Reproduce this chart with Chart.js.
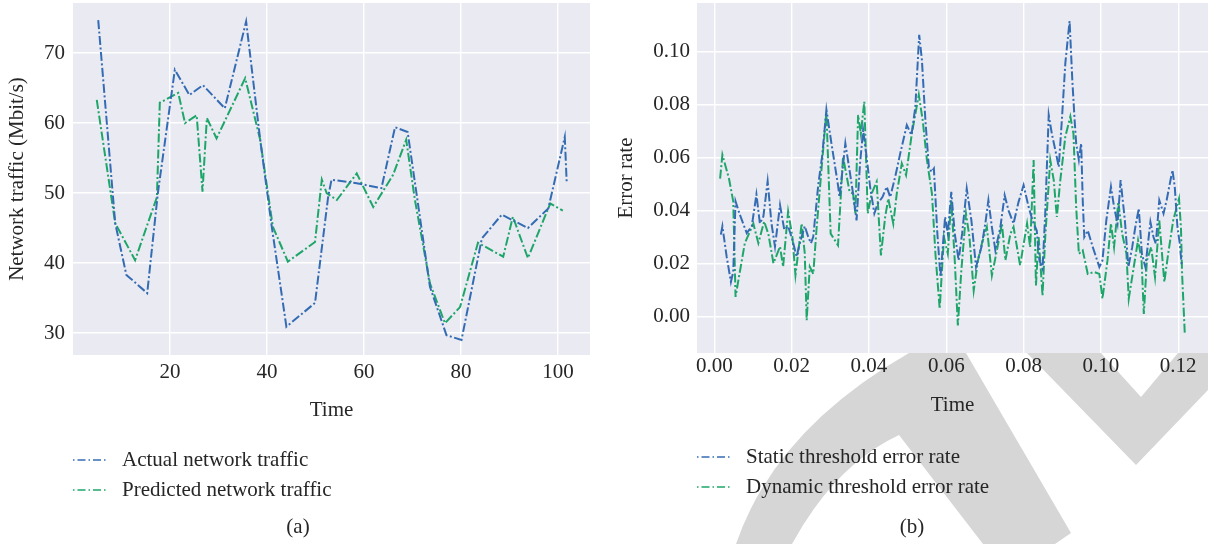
<!DOCTYPE html>
<html>
<head>
<meta charset="utf-8">
<script src="https://cdn.jsdelivr.net/npm/chart.js@4.4.1/dist/chart.umd.min.js"></script>
<style>
  html, body { margin: 0; padding: 0; background: #fff; }
  #page { position: relative; width: 1208px; height: 544px; overflow: hidden; }
  #mark { position: absolute; left: 0; top: 0; }
  canvas { position: absolute; top: 0; }
  #trafficChart { left: 0; }
  #errorChart { left: 604px; }
</style>
</head>
<body>
<div id="page">
  <svg id="mark" width="1208" height="544">
    <path fill="#d6d6d6" d="M736,544 Q775,430 909,353 L966,353 L1071,533 L1055,544 L983,544 L899,435 Q835,465 792,544 Z"/>
    <polygon fill="#d6d6d6" points="1027,353 1136,465 1208,390 1208,353 1178,353 1141,397 1101,353"/>
  </svg>
  <canvas id="trafficChart" width="604" height="544"></canvas>
  <canvas id="errorChart" width="604" height="544"></canvas>
</div>
<script>
// (a) network traffic
const trafficTime = [5.2, 8.7, 11, 15.3, 17.5, 21, 24, 26.8, 31.3, 35.7, 38.6, 41, 44, 49.9, 52.6, 53.3, 58.5, 63.6, 66.4, 69, 73.6, 77, 80.1, 84.3, 88.4, 93.8, 98, 101.4, 101.8];
const actualTraffic = [74.7, 45.7, 38.3, 35.7, 50, 67.6, 64, 65.4, 62.1, 74.5, 57.6, 45.1, 30.9, 34.3, 49.4, 51.9, 51.4, 50.7, 59.4, 58.7, 36.6, 29.7, 29, 43.5, 46.9, 45, 47.8, 58, 51.4];
const predTime = [4.9, 8.7, 12.8, 17.3, 17.9, 21.7, 23.1, 25.5, 26.7, 27.6, 29.6, 35.5, 38.6, 41.2, 44.3, 49.9, 51.3, 52.3, 54.4, 58.5, 61.9, 66, 68.7, 70.5, 73.6, 76.7, 79.8, 83.5, 88.7, 90.7, 93.8, 98.4, 101];
const predictedTraffic = [63.3, 45.7, 40.4, 49.4, 62.9, 64.3, 60, 61.1, 50.2, 60.7, 57.8, 66.4, 57.6, 45.2, 40.2, 43, 51.9, 50, 49, 52.8, 48, 52.6, 57.6, 49, 37.1, 31.4, 33.7, 42.9, 40.9, 46.6, 40.7, 48.5, 47.5];
const trafficTimeTicks = [20, 40, 60, 80, 100];
const trafficTicks = [30, 40, 50, 60, 70];

// (b) error rate
const staticTime = [0.0017, 0.0021, 0.0032, 0.0043, 0.0049, 0.0055, 0.0066, 0.0084, 0.0097, 0.0109, 0.0118, 0.0127, 0.0138, 0.0148, 0.0157, 0.0170, 0.0181, 0.0191, 0.0202, 0.0213, 0.0219, 0.0226, 0.0234, 0.0243, 0.0250, 0.0256, 0.0269, 0.0279, 0.0290,
  0.0303, 0.0320, 0.0324, 0.0339, 0.0350, 0.0359, 0.0368, 0.0377, 0.0385, 0.0394, 0.0403, 0.0414, 0.0423, 0.0435, 0.0446, 0.0455, 0.0468, 0.0481, 0.0498, 0.0510, 0.0520, 0.0530, 0.0537, 0.0546, 0.0555, 0.0562, 0.0568, 0.0577, 0.0585, 0.0597,
  0.0604, 0.0613, 0.0622, 0.0632, 0.0641, 0.0653, 0.0665, 0.0677, 0.0691, 0.0701, 0.0709, 0.0718, 0.0727, 0.0740, 0.0751, 0.0761, 0.0774, 0.0787, 0.0800, 0.0813, 0.0823, 0.0834, 0.0841, 0.0849, 0.0856, 0.0865, 0.0873, 0.0882, 0.0891, 0.0899, 0.0908,
  0.0919, 0.0926, 0.0932, 0.0936, 0.0943, 0.0949, 0.0953, 0.0957, 0.0966, 0.0979, 0.0996, 0.1004, 0.1014, 0.1026, 0.1034, 0.1043, 0.1051, 0.1062, 0.1071, 0.1081, 0.1089, 0.1098, 0.1106, 0.1115, 0.1128, 0.1136, 0.1142, 0.1151, 0.1162, 0.1170, 0.1185, 0.1191, 0.1198, 0.1204, 0.1209];
const staticRate = [0.0308, 0.034, 0.0225, 0.013, 0.0168, 0.0434, 0.0384, 0.0314, 0.034, 0.046, 0.035, 0.0377, 0.051, 0.035, 0.0263, 0.042, 0.0327, 0.034, 0.0289, 0.0225, 0.0263, 0.030, 0.034, 0.030, 0.0276, 0.030, 0.0497, 0.0605, 0.078,
  0.0653, 0.0495, 0.045, 0.0653, 0.055, 0.0463, 0.0362, 0.0577, 0.0703, 0.0602, 0.0489, 0.0388, 0.0426, 0.045, 0.0489, 0.045, 0.0527, 0.0615, 0.0722, 0.0684, 0.079, 0.1063, 0.0968, 0.0741, 0.0564, 0.0545, 0.0558, 0.0312, 0.0148, 0.0375,
  0.0312, 0.047, 0.0312, 0.0211, 0.0312, 0.0482, 0.0362, 0.0186, 0.0261, 0.035, 0.0438, 0.0337, 0.0249, 0.0337, 0.0457, 0.040, 0.035, 0.0432, 0.0495, 0.0413, 0.0362, 0.0324, 0.0211, 0.0179, 0.0388, 0.076, 0.069, 0.0628, 0.0564, 0.0741, 0.0956,
  0.1115, 0.0893, 0.0741, 0.0653, 0.059, 0.0653, 0.0438, 0.0299, 0.0324, 0.0261, 0.0186, 0.0211, 0.0362, 0.0489, 0.0413, 0.035, 0.0514, 0.0362, 0.0186, 0.0261, 0.0337, 0.0407, 0.0236, 0.0186, 0.0356, 0.0299, 0.0274, 0.0438, 0.0388, 0.0438, 0.0552, 0.0489, 0.0337, 0.0274, 0.0192];
const dynamicTime = [0.0015, 0.0021, 0.0038, 0.0049, 0.0055, 0.0064, 0.0079, 0.0101, 0.0114, 0.0129, 0.0140, 0.0153, 0.0170, 0.0178, 0.0191, 0.0202, 0.0210, 0.0226, 0.0234, 0.0239, 0.0247, 0.0256, 0.0265, 0.0273, 0.0286, 0.0290,
  0.0301, 0.0320, 0.0333, 0.0350, 0.0359, 0.0365, 0.0372, 0.0379, 0.0388, 0.0397, 0.0407, 0.0420, 0.0431, 0.0442, 0.0450, 0.0463, 0.0472, 0.0485, 0.0496, 0.0511, 0.0529, 0.0539, 0.0550, 0.0563, 0.0572, 0.0583, 0.0594,
  0.0604, 0.0613, 0.0622, 0.0630, 0.0639, 0.0651, 0.0660, 0.0671, 0.0682, 0.0692, 0.0705, 0.0718, 0.0731, 0.0744, 0.0753, 0.0766, 0.0774, 0.0791, 0.0809, 0.0817, 0.0826, 0.0832, 0.0839, 0.0849, 0.0856, 0.0869, 0.0878, 0.0886, 0.0895, 0.0908,
  0.0921, 0.0929, 0.0936, 0.0943, 0.0953, 0.0966, 0.0983, 0.0996, 0.1004, 0.1017, 0.1026, 0.1034, 0.1045, 0.1055, 0.1066, 0.1072, 0.1085, 0.1096, 0.1105, 0.1111, 0.1119, 0.1130, 0.1140, 0.1151, 0.1164, 0.1174, 0.1187, 0.1202, 0.1207, 0.1210, 0.1217];
const dynamicRate = [0.052, 0.061, 0.052, 0.0434, 0.0073, 0.015, 0.0276, 0.035, 0.0276, 0.0358, 0.031, 0.020, 0.0263, 0.0187, 0.0396, 0.030, 0.0156, 0.035, 0.0238, -0.0015, 0.0187, 0.016, 0.034, 0.0478, 0.0706, 0.077,
  0.0312, 0.0268, 0.0602, 0.047, 0.0463, 0.0388, 0.076, 0.069, 0.081, 0.0388, 0.0463, 0.0508, 0.023, 0.0375, 0.0444, 0.035, 0.0463, 0.0577, 0.0533, 0.069, 0.0836, 0.0741, 0.059, 0.0463, 0.0236, 0.0028, 0.0299,
  0.0236, 0.0438, 0.0211, -0.0035, 0.0173, 0.0388, 0.0299, 0.0097, 0.0211, 0.0274, 0.0337, 0.0154, 0.0249, 0.035, 0.0211, 0.0312, 0.0337, 0.0192, 0.035, 0.0261, 0.059, 0.0116, 0.0299, 0.0078, 0.0299, 0.059, 0.0514, 0.0375, 0.0514, 0.0678,
  0.0754, 0.069, 0.0413, 0.0236, 0.0249, 0.016, 0.0167, 0.016, 0.0066, 0.0211, 0.035, 0.0261, 0.0432, 0.0312, 0.0236, 0.0066, 0.0186, 0.0287, 0.0217, 0.0009, 0.0211, 0.0261, 0.0148, 0.0362, 0.0129, 0.0236, 0.0362, 0.0444, 0.0337, 0.016, -0.0067];
const rateTimeTicks = [0, 0.02, 0.04, 0.06, 0.08, 0.10, 0.12];
const rateTicks = [0, 0.02, 0.04, 0.06, 0.08, 0.10];

const FONT = '"Liberation Serif", "Times New Roman", serif';
const TEXT = '#262626';
const BLUE = '#346cb4';
const GREEN = '#1ea66a';
const DASH = [9, 2.5, 2, 2.5];

function pairs(xs, ys) {
    return xs.map((x, i) => ({ x: x, y: ys[i] }));
}

function series(label, xs, ys, color) {
    return {
        label: label,
        data: pairs(xs, ys),
        borderColor: color,
        borderWidth: 2,
        borderDash: DASH,
        pointRadius: 0,
        tension: 0,
        fill: false
    };
}

// seaborn-ish grey plot area
const plotBackground = {
    id: 'plotBackground',
    beforeDraw(chart) {
        const a = chart.chartArea;
        const ctx = chart.ctx;
        ctx.save();
        ctx.fillStyle = '#eaeaf2';
        ctx.fillRect(a.left, a.top, a.right - a.left, a.bottom - a.top);
        ctx.restore();
    }
};

// legend stacked under the axis, plus the (a)/(b) caption
const belowLegend = {
    id: 'belowLegend',
    afterDraw(chart, args, opts) {
        const ctx = chart.ctx;
        ctx.save();
        ctx.font = '21px ' + FONT;
        ctx.textBaseline = 'middle';
        chart.data.datasets.forEach((ds, i) => {
            const y = opts.rows[i];
            ctx.strokeStyle = ds.borderColor;
            ctx.lineWidth = 1.5;
            ctx.setLineDash([1.5, 3, 8, 3]);
            ctx.beginPath();
            ctx.moveTo(opts.lineX[0], y);
            ctx.lineTo(opts.lineX[1], y);
            ctx.stroke();
            ctx.setLineDash([]);
            ctx.fillStyle = TEXT;
            ctx.textAlign = 'left';
            ctx.fillText(ds.label, opts.textX, y);
        });
        ctx.textAlign = 'center';
        ctx.fillText(opts.caption, opts.captionX, opts.captionY);
        ctx.restore();
    }
};

function axis(cfg) {
    return {
        type: 'linear',
        min: cfg.min,
        max: cfg.max,
        afterBuildTicks: s => { s.ticks = cfg.ticks.map(v => ({ value: v })); },
        afterFit: s => {
            if (cfg.width) s.width = cfg.width;
            if (cfg.height) s.height = cfg.height;
            s.paddingTop = 0; s.paddingBottom = 0;
            s.paddingLeft = 0; s.paddingRight = 0;
        },
        grid: { color: '#ffffff', lineWidth: 1.4, drawTicks: false },
        border: { display: false },
        ticks: {
            padding: cfg.pad,
            color: TEXT,
            font: { family: FONT, size: 21 },
            callback: cfg.format
        },
        title: {
            display: true,
            text: cfg.title,
            color: TEXT,
            font: { family: FONT, size: 21 },
            padding: cfg.titlePad
        }
    };
}

function makeChart(id, datasets, opts) {
    return new Chart(document.getElementById(id), {
        type: 'line',
        data: { datasets: datasets },
        options: {
            responsive: false,
            animation: false,
            devicePixelRatio: 1,
            layout: { padding: opts.padding },
            plugins: {
                legend: { display: false },
                tooltip: { enabled: false },
                belowLegend: opts.legend
            },
            scales: { x: opts.x, y: opts.y }
        },
        plugins: [plotBackground, belowLegend]
    });
}

makeChart('trafficChart', [
    series('Actual network traffic', trafficTime, actualTraffic, BLUE),
    series('Predicted network traffic', predTime, predictedTraffic, GREEN)
], {
    padding: { left: 0, right: 14, top: 3, bottom: 121 },
    x: axis({ min: 0, max: 106.6, ticks: trafficTimeTicks, height: 68, pad: 5,
              title: 'Time', titlePad: 0, format: v => String(v) }),
    y: axis({ min: 26.86, max: 77.14, ticks: trafficTicks, width: 73, pad: 8,
              title: 'Network traffic (Mbit/s)', titlePad: { top: 5, bottom: 0 }, format: v => String(v) }),
    legend: { rows: [460, 490], lineX: [73, 108], textX: 122, caption: '(a)', captionX: 298, captionY: 527 }
});

makeChart('errorChart', [
    series('Static threshold error rate', staticTime, staticRate, BLUE),
    series('Dynamic threshold error rate', dynamicTime, dynamicRate, GREEN)
], {
    padding: { left: 0, right: 0, top: 3, bottom: 126 },
    x: axis({ min: -0.00447, max: 0.1277, ticks: rateTimeTicks, height: 65, pad: 1,
              title: 'Time', titlePad: 0, format: v => v.toFixed(2) }),
    y: axis({ min: -0.01388, max: 0.1183, ticks: rateTicks, width: 93, pad: 7,
              title: 'Error rate', titlePad: { top: 10, bottom: 0 }, format: v => v.toFixed(2) }),
    legend: { rows: [457, 487], lineX: [93, 128], textX: 142, caption: '(b)', captionX: 308, captionY: 527 }
});
</script>
</body>
</html>
